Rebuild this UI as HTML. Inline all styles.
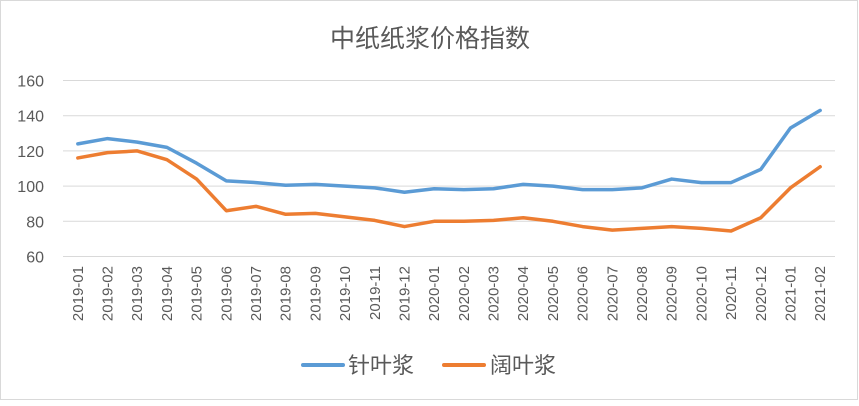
<!DOCTYPE html>
<html><head><meta charset="utf-8"><style>
body{margin:0;width:859px;height:401px;background:#fff;overflow:hidden;font-family:"Liberation Sans","Noto Sans CJK SC",sans-serif}
</style></head><body>
<svg id="chart" width="859" height="401" xmlns="http://www.w3.org/2000/svg">
<rect x="0.5" y="0.5" width="857" height="399" fill="#fff" stroke="#d9d9d9"/>
<text x="430" y="47" text-anchor="middle" font-size="25" fill="#595959" font-family="Liberation Sans, Noto Sans CJK SC, sans-serif">中纸纸浆价格指数</text>
<g id="grid"></g>
<g id="ylabels"></g>
<g id="xlabels"></g>
<g id="series"></g>
<g>
<g>
<line x1="303" y1="365" x2="343" y2="365" stroke="#5b9bd5" stroke-width="4" stroke-linecap="round"/>
<text x="348" y="373" font-size="22" fill="#595959">针叶浆</text></g>
<g>
<line x1="444" y1="365" x2="484" y2="365" stroke="#ed7d31" stroke-width="4" stroke-linecap="round"/>
<text x="490" y="373" font-size="22" fill="#595959">阔叶浆</text></g>
</g>
</svg>
<script>
const categories=["2019-01","2019-02","2019-03","2019-04","2019-05","2019-06","2019-07","2019-08","2019-09","2019-10","2019-11","2019-12","2020-01","2020-02","2020-03","2020-04","2020-05","2020-06","2020-07","2020-08","2020-09","2020-10","2020-11","2020-12","2021-01","2021-02"];
const softwood=[124,127,125,122,113,103,102,100.5,101,100,99,96.5,98.5,98,98.5,101,100,98,98,99,104,102,102,109.5,133,143];
const hardwood=[116,119,120,115,104,86,88.5,84,84.5,82.5,80.5,77,80,80,80.5,82,80,77,75,76,77,76,74.5,82,99,111];
const yTicks=[60,80,100,120,140,160];
const NS="http://www.w3.org/2000/svg";
const x0=63,x1=835,yTop=80.5,yBot=256.5,yMin=60,yMax=160;
const band=(x1-x0)/categories.length;
function xs(i){return x0+band*(i+0.5);}
function ys(v){return yBot-(v-yMin)/(yMax-yMin)*(yBot-yTop);}
function mk(tag,attrs,parent){const e=document.createElementNS(NS,tag);for(const k in attrs)e.setAttribute(k,attrs[k]);parent.appendChild(e);return e;}
const grid=document.getElementById('grid'),yl=document.getElementById('ylabels'),xl=document.getElementById('xlabels'),sg=document.getElementById('series');
yTicks.forEach(t=>{
  const l=mk('line',{x1:x0,x2:x1,y1:ys(t),y2:ys(t),stroke:'#d9d9d9','stroke-width':1},grid);
  
  
  const tx=mk('text',{x:44,y:ys(t)+6,'text-anchor':'end','font-size':16,fill:'#595959'},yl);
  tx.textContent=t;
  
  
});
categories.forEach((c,i)=>{
  const x=xs(i)+5,y=266;
  const tx=mk('text',{x:x,y:y,'text-anchor':'end','font-size':15,fill:'#595959',transform:`rotate(-90 ${x} ${y})`},xl);
  tx.textContent=c;
  
  
});
function line(data,color,name){
  const p=mk('polyline',{points:data.map((v,i)=>xs(i)+','+ys(v)).join(' '),fill:'none',stroke:color,'stroke-width':3.5,'stroke-linejoin':'round','stroke-linecap':'round'},sg);
  
  
}
line(softwood,'#5b9bd5','softwood-line');
line(hardwood,'#ed7d31','hardwood-line');
</script>
</body></html>
